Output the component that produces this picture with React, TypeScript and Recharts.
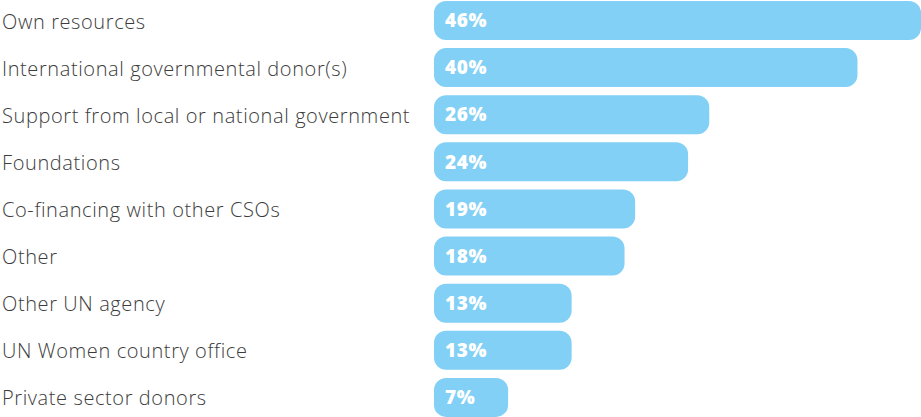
import { BarChart, Bar, XAxis, YAxis, LabelList } from "recharts";

const categories = [
  "Own resources",
  "International governmental donor(s)",
  "Support from local or national government",
  "Foundations",
  "Co-financing with other CSOs",
  "Other",
  "Other UN agency",
  "UN Women country office",
  "Private sector donors",
];
const shares = [46, 40, 26, 24, 19, 18, 13, 13, 7];

const data = categories.map((name, i) => ({ name, value: shares[i] }));

const LeftTick = (props: any) => {
  const { y, payload } = props;
  return (
    <text
      x={2}
      y={y}
      dy={8}
      textAnchor="start"
      fill="#3c3c3c"
      fontSize={20}
      letterSpacing={0.6}
      fontFamily="'Open Sans', sans-serif"
      fontWeight={300}
    >
      {payload.value}
    </text>
  );
};

export default function App() {
  return (
    <div style={{ position: "absolute", left: 0, top: 0, background: "#fff" }}>
      <BarChart
        width={921}
        height={417}
        data={data}
        layout="vertical"
        margin={{ top: -3, right: 0, bottom: -4, left: 0 }}
      >
        <XAxis type="number" domain={[0, 46]} hide />
        <YAxis
          type="category"
          dataKey="name"
          width={434}
          axisLine={false}
          tickLine={false}
          tick={<LeftTick />}
        />
        <Bar
          dataKey="value"
          fill="#82d0f5"
          barSize={39}
          radius={12}
          isAnimationActive={false}
        >
          <LabelList
            dataKey="value"
            position="insideLeft"
            offset={11}
            formatter={(v: any) => `${v}%`}
            fill="#fff"
            fontSize={19}
            letterSpacing={0.6}
            fontWeight={800}
            fontFamily="'Open Sans', sans-serif"
          />
        </Bar>
      </BarChart>
    </div>
  );
}
